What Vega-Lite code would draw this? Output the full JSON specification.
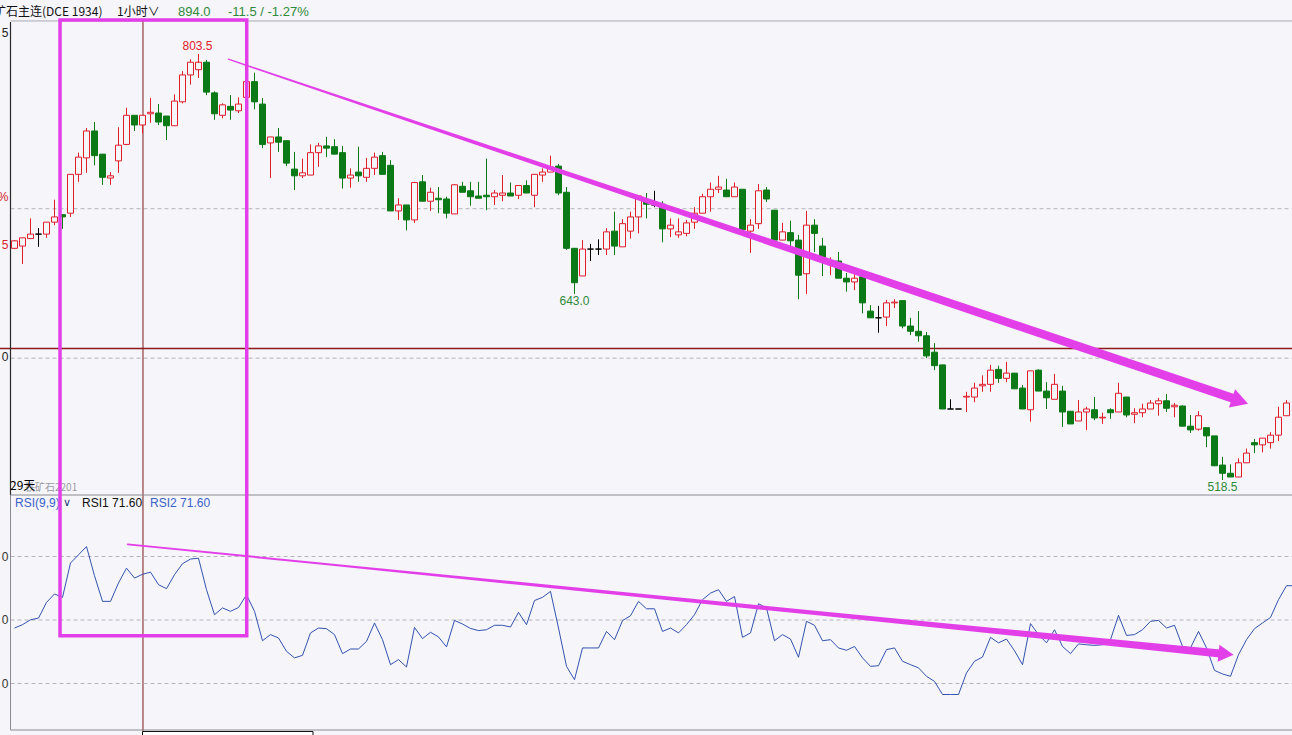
{
"$schema": "https://vega.github.io/schema/vega-lite/v6.json",
"width": 1292, "height": 735,
"autosize": {"type": "none"},
"padding": 0,
"background": "#f5f5fa",
"config": {"view": {"stroke": null}, "axis": {"disable": true}, "legend": {"disable": true}, "scale": {"continuousPadding": 0}},
"datasets": {
"candles": [
{"i":0,"o":673.5,"h":679,"l":673,"c":678.5,"d":"u"},
{"i":1,"o":675,"h":680.5,"l":663,"c":680.5,"d":"u"},
{"i":2,"o":680,"h":693.5,"l":680,"c":683,"d":"u"},
{"i":3,"o":683,"h":687,"l":674.5,"c":683,"d":"f"},
{"i":4,"o":683,"h":691,"l":680.5,"c":691,"d":"u"},
{"i":5,"o":691,"h":706,"l":689,"c":694.5,"d":"u"},
{"i":6,"o":696,"h":696,"l":686.5,"c":694.5,"d":"d"},
{"i":7,"o":697,"h":723,"l":694.5,"c":723,"d":"u"},
{"i":8,"o":723,"h":737.5,"l":718,"c":734.5,"d":"u"},
{"i":9,"o":734,"h":754,"l":724,"c":752,"d":"u"},
{"i":10,"o":752,"h":758,"l":729,"c":735.5,"d":"d"},
{"i":11,"o":736.5,"h":736.5,"l":716,"c":721,"d":"d"},
{"i":12,"o":720.5,"h":724.5,"l":716,"c":722,"d":"u"},
{"i":13,"o":732,"h":754.5,"l":724,"c":742.5,"d":"u"},
{"i":14,"o":743,"h":767.5,"l":742.5,"c":762.5,"d":"u"},
{"i":15,"o":762.5,"h":762.5,"l":752,"c":756,"d":"d"},
{"i":16,"o":756,"h":762.5,"l":750.5,"c":762.5,"d":"u"},
{"i":17,"o":763.5,"h":774,"l":757.5,"c":764.5,"d":"u"},
{"i":18,"o":764,"h":770,"l":756,"c":758,"d":"d"},
{"i":19,"o":762,"h":762,"l":746,"c":755.5,"d":"d"},
{"i":20,"o":755.5,"h":776.5,"l":755.5,"c":772,"d":"u"},
{"i":21,"o":771.5,"h":792,"l":770.5,"c":789.5,"d":"u"},
{"i":22,"o":789.5,"h":800,"l":783,"c":798,"d":"u"},
{"i":23,"o":793,"h":803.5,"l":787.5,"c":798,"d":"u"},
{"i":24,"o":798,"h":799.5,"l":776,"c":778,"d":"d"},
{"i":25,"o":777.5,"h":778.5,"l":759.5,"c":763.5,"d":"d"},
{"i":26,"o":762.5,"h":770.5,"l":760.5,"c":769.5,"d":"u"},
{"i":27,"o":768.5,"h":776,"l":759.5,"c":766,"d":"d"},
{"i":28,"o":765.5,"h":774.5,"l":764,"c":770,"d":"u"},
{"i":29,"o":774.5,"h":787,"l":773.5,"c":785,"d":"u"},
{"i":30,"o":785,"h":791,"l":766.5,"c":771.5,"d":"d"},
{"i":31,"o":770,"h":774,"l":740.5,"c":743,"d":"d"},
{"i":32,"o":744,"h":748,"l":720.5,"c":748,"d":"u"},
{"i":33,"o":748,"h":754,"l":738,"c":744.5,"d":"d"},
{"i":34,"o":745.5,"h":745.5,"l":728.5,"c":730.5,"d":"d"},
{"i":35,"o":726.5,"h":738,"l":712.5,"c":722,"d":"d"},
{"i":36,"o":722,"h":733.5,"l":720.5,"c":724,"d":"u"},
{"i":37,"o":722.5,"h":743,"l":722.5,"c":737.5,"d":"u"},
{"i":38,"o":737.5,"h":744,"l":728,"c":742,"d":"u"},
{"i":39,"o":742,"h":748,"l":734.5,"c":740.5,"d":"d"},
{"i":40,"o":741.5,"h":746.5,"l":736.5,"c":736.5,"d":"d"},
{"i":41,"o":737.5,"h":742,"l":713.5,"c":720.5,"d":"d"},
{"i":42,"o":720.5,"h":727,"l":714,"c":722.5,"d":"u"},
{"i":43,"o":724.5,"h":741.5,"l":718,"c":722,"d":"d"},
{"i":44,"o":721,"h":734,"l":718,"c":727,"d":"u"},
{"i":45,"o":727,"h":737.5,"l":722.5,"c":734.5,"d":"u"},
{"i":46,"o":735.5,"h":738,"l":723,"c":723,"d":"d"},
{"i":47,"o":729,"h":732.5,"l":698.5,"c":698.5,"d":"d"},
{"i":48,"o":698.5,"h":707,"l":692.5,"c":702.5,"d":"u"},
{"i":49,"o":702.5,"h":702.5,"l":685.5,"c":692.5,"d":"d"},
{"i":50,"o":692.5,"h":718,"l":690.5,"c":717.5,"d":"u"},
{"i":51,"o":718,"h":722.5,"l":705,"c":705,"d":"d"},
{"i":52,"o":705,"h":714,"l":698.5,"c":711,"d":"u"},
{"i":53,"o":707,"h":714.5,"l":697,"c":706,"d":"d"},
{"i":54,"o":706.5,"h":708,"l":693.5,"c":697,"d":"d"},
{"i":55,"o":696.5,"h":716.5,"l":696.5,"c":716,"d":"u"},
{"i":56,"o":715,"h":718,"l":711,"c":711,"d":"d"},
{"i":57,"o":712,"h":718,"l":702,"c":708,"d":"d"},
{"i":58,"o":708.5,"h":718,"l":707,"c":707,"d":"d"},
{"i":59,"o":709,"h":733.5,"l":699,"c":708,"d":"d"},
{"i":60,"o":708,"h":712.5,"l":702.5,"c":710.5,"d":"u"},
{"i":61,"o":709,"h":722.5,"l":705,"c":710.5,"d":"u"},
{"i":62,"o":710.5,"h":717.5,"l":708.5,"c":708.5,"d":"d"},
{"i":63,"o":709,"h":715.5,"l":706.5,"c":715.5,"d":"u"},
{"i":64,"o":715.5,"h":719,"l":710.5,"c":710.5,"d":"d"},
{"i":65,"o":709,"h":723,"l":701,"c":723,"d":"u"},
{"i":66,"o":722.5,"h":727,"l":718,"c":724.5,"d":"u"},
{"i":67,"o":724.5,"h":735.5,"l":724.5,"c":728,"d":"u"},
{"i":68,"o":728.5,"h":730,"l":709,"c":710.5,"d":"d"},
{"i":69,"o":711,"h":714.5,"l":672.5,"c":673.5,"d":"d"},
{"i":70,"o":673.5,"h":673.5,"l":643,"c":650.5,"d":"d"},
{"i":71,"o":655,"h":679,"l":655,"c":673,"d":"u"},
{"i":72,"o":673,"h":676.5,"l":665,"c":673,"d":"f"},
{"i":73,"o":673,"h":679.5,"l":669,"c":673,"d":"f"},
{"i":74,"o":673,"h":687,"l":669,"c":684.5,"d":"u"},
{"i":75,"o":685,"h":698,"l":669,"c":675,"d":"d"},
{"i":76,"o":674.5,"h":693,"l":674.5,"c":690,"d":"u"},
{"i":77,"o":685,"h":698,"l":680,"c":694.5,"d":"u"},
{"i":78,"o":694.5,"h":709,"l":683.5,"c":708.5,"d":"u"},
{"i":79,"o":706,"h":710.5,"l":693.5,"c":703,"d":"d"},
{"i":80,"o":702.5,"h":712,"l":701,"c":702.5,"d":"f"},
{"i":81,"o":703,"h":705,"l":677.5,"c":686.5,"d":"d"},
{"i":82,"o":686.5,"h":693.5,"l":681,"c":689,"d":"u"},
{"i":83,"o":682.5,"h":693.5,"l":680.5,"c":684.5,"d":"u"},
{"i":84,"o":683.5,"h":692.5,"l":681.5,"c":690.5,"d":"u"},
{"i":85,"o":691,"h":701,"l":686.5,"c":697,"d":"u"},
{"i":86,"o":697,"h":710,"l":697,"c":708,"d":"u"},
{"i":87,"o":708,"h":717.5,"l":698,"c":713,"d":"u"},
{"i":88,"o":713,"h":722,"l":710.5,"c":714.5,"d":"u"},
{"i":89,"o":712.5,"h":720,"l":708,"c":708,"d":"d"},
{"i":90,"o":708,"h":717.5,"l":708,"c":714.5,"d":"u"},
{"i":91,"o":713,"h":713,"l":684.5,"c":686,"d":"d"},
{"i":92,"o":685,"h":693,"l":670.5,"c":689,"d":"u"},
{"i":93,"o":690,"h":716.5,"l":686.5,"c":712,"d":"u"},
{"i":94,"o":712.5,"h":714.5,"l":704.5,"c":706.5,"d":"d"},
{"i":95,"o":699,"h":699,"l":679,"c":679,"d":"d"},
{"i":96,"o":679,"h":690.5,"l":679,"c":684.5,"d":"u"},
{"i":97,"o":684,"h":692,"l":673.5,"c":678.5,"d":"d"},
{"i":98,"o":679,"h":682.5,"l":639.5,"c":655.5,"d":"d"},
{"i":99,"o":656.5,"h":698.5,"l":643,"c":689,"d":"u"},
{"i":100,"o":689,"h":693,"l":671,"c":683.5,"d":"d"},
{"i":101,"o":675,"h":680.5,"l":655,"c":666.5,"d":"d"},
{"i":102,"o":663.5,"h":667.5,"l":655.5,"c":664.5,"d":"u"},
{"i":103,"o":665,"h":671,"l":653.5,"c":653.5,"d":"d"},
{"i":104,"o":653.5,"h":657,"l":644.5,"c":651,"d":"d"},
{"i":105,"o":651,"h":661,"l":645.5,"c":653.5,"d":"u"},
{"i":106,"o":654.5,"h":654.5,"l":630,"c":637,"d":"d"},
{"i":107,"o":631.5,"h":635.5,"l":627,"c":627,"d":"d"},
{"i":108,"o":627,"h":635,"l":617,"c":627,"d":"f"},
{"i":109,"o":627.5,"h":639,"l":621.5,"c":637,"d":"u"},
{"i":110,"o":637,"h":639.5,"l":633.5,"c":637.5,"d":"u"},
{"i":111,"o":638.5,"h":638.5,"l":620,"c":621.5,"d":"d"},
{"i":112,"o":621.5,"h":627,"l":615.5,"c":618,"d":"d"},
{"i":113,"o":618,"h":631.5,"l":611,"c":615,"d":"d"},
{"i":114,"o":615,"h":617.5,"l":600,"c":601.5,"d":"d"},
{"i":115,"o":604,"h":610,"l":592,"c":595,"d":"d"},
{"i":116,"o":595.5,"h":595.5,"l":566,"c":566,"d":"d"},
{"i":117,"o":566,"h":572.5,"l":566,"c":566,"d":"f"},
{"i":118,"o":566,"h":566,"l":566,"c":566,"d":"f"},
{"i":119,"o":574,"h":577.5,"l":564,"c":574.5,"d":"u"},
{"i":120,"o":574,"h":583.5,"l":570.5,"c":580,"d":"u"},
{"i":121,"o":581.5,"h":588.5,"l":577.5,"c":582.5,"d":"u"},
{"i":122,"o":582.5,"h":595.5,"l":577.5,"c":592,"d":"u"},
{"i":123,"o":592.5,"h":595,"l":583.5,"c":586.5,"d":"d"},
{"i":124,"o":586.5,"h":597.5,"l":584,"c":590,"d":"u"},
{"i":125,"o":590,"h":590,"l":579.5,"c":579.5,"d":"d"},
{"i":126,"o":580,"h":582,"l":566,"c":566,"d":"d"},
{"i":127,"o":565.5,"h":591.5,"l":557.5,"c":591.5,"d":"u"},
{"i":128,"o":592,"h":592.5,"l":578,"c":578,"d":"d"},
{"i":129,"o":578,"h":584,"l":566,"c":573.5,"d":"d"},
{"i":130,"o":572.5,"h":589.5,"l":572.5,"c":582.5,"d":"u"},
{"i":131,"o":578,"h":581.5,"l":554,"c":564,"d":"d"},
{"i":132,"o":564.5,"h":564.5,"l":556,"c":556,"d":"d"},
{"i":133,"o":558,"h":572,"l":558,"c":564,"d":"u"},
{"i":134,"o":564,"h":567.5,"l":552,"c":566,"d":"u"},
{"i":135,"o":565.5,"h":574,"l":558.5,"c":560,"d":"d"},
{"i":136,"o":560,"h":563.5,"l":556,"c":560.5,"d":"u"},
{"i":137,"o":565.5,"h":566.5,"l":559.5,"c":563.5,"d":"d"},
{"i":138,"o":564,"h":583.5,"l":564,"c":576.5,"d":"u"},
{"i":139,"o":574,"h":574,"l":560.5,"c":562,"d":"d"},
{"i":140,"o":562.5,"h":566.5,"l":556.5,"c":563.5,"d":"u"},
{"i":141,"o":563.5,"h":569.5,"l":560.5,"c":566,"d":"u"},
{"i":142,"o":566,"h":572,"l":566,"c":570,"d":"u"},
{"i":143,"o":569.5,"h":573.5,"l":561.5,"c":571.5,"d":"u"},
{"i":144,"o":571.5,"h":576,"l":564,"c":566.5,"d":"d"},
{"i":145,"o":567.5,"h":570,"l":560.5,"c":568.5,"d":"u"},
{"i":146,"o":568,"h":568.5,"l":554.5,"c":554.5,"d":"d"},
{"i":147,"o":554.5,"h":562,"l":550,"c":552,"d":"d"},
{"i":148,"o":552.5,"h":564.5,"l":551.5,"c":561.5,"d":"u"},
{"i":149,"o":553.5,"h":553.5,"l":540.5,"c":548,"d":"d"},
{"i":150,"o":548,"h":548,"l":528,"c":528,"d":"d"},
{"i":151,"o":528.5,"h":534,"l":518.5,"c":523,"d":"d"},
{"i":152,"o":523,"h":529,"l":520.5,"c":520.5,"d":"d"},
{"i":153,"o":520.5,"h":533,"l":520.5,"c":530,"d":"u"},
{"i":154,"o":530,"h":539.5,"l":530,"c":536.5,"d":"u"},
{"i":155,"o":543.5,"h":546,"l":536.5,"c":542,"d":"d"},
{"i":156,"o":542,"h":546.5,"l":537,"c":546.5,"d":"u"},
{"i":157,"o":543.5,"h":550.5,"l":539.5,"c":548.5,"d":"u"},
{"i":158,"o":548.5,"h":567.5,"l":544.5,"c":560.5,"d":"u"},
{"i":159,"o":561.5,"h":572,"l":561.5,"c":570,"d":"u"}
],
"rsi": [
{"i":0,"r":46.2},{"i":1,"r":47.8},{"i":2,"r":50.1},{"i":3,"r":50.9},{"i":4,"r":58.3},{"i":5,"r":62.3},{"i":6,"r":60.7},{"i":7,"r":76.9},{"i":8,"r":80.8},{"i":9,"r":84.7},
{"i":10,"r":70.9},{"i":11,"r":58.8},{"i":12,"r":58.8},{"i":13,"r":67.5},{"i":14,"r":74.5},{"i":15,"r":69.8},{"i":16,"r":71.6},{"i":17,"r":72.6},{"i":18,"r":66.7},{"i":19,"r":64.8},
{"i":20,"r":71.4},{"i":21,"r":76.6},{"i":22,"r":78.8},{"i":23,"r":79.2},{"i":24,"r":64.3},{"i":25,"r":52.5},{"i":26,"r":55.7},{"i":27,"r":54.1},{"i":28,"r":55.9},{"i":29,"r":61.9},
{"i":30,"r":54.1},{"i":31,"r":40.2},{"i":32,"r":43.1},{"i":33,"r":41.5},{"i":34,"r":35.2},{"i":35,"r":32.1},{"i":36,"r":33.3},{"i":37,"r":43.9},{"i":38,"r":46.2},{"i":39,"r":45.9},
{"i":40,"r":43.1},{"i":41,"r":34.1},{"i":42,"r":36.3},{"i":43,"r":36.3},{"i":44,"r":39.9},{"i":45,"r":48.6},{"i":46,"r":40.7},{"i":47,"r":28.9},{"i":48,"r":31.3},{"i":49,"r":27.8},
{"i":50,"r":46.5},{"i":51,"r":41.2},{"i":52,"r":44.2},{"i":53,"r":42.0},{"i":54,"r":37.3},{"i":55,"r":49.8},{"i":56,"r":48.1},{"i":57,"r":46.0},{"i":58,"r":45.0},{"i":59,"r":45.4},
{"i":60,"r":47.5},{"i":61,"r":47.5},{"i":62,"r":46.7},{"i":63,"r":53.6},{"i":64,"r":47.8},{"i":65,"r":59.2},{"i":66,"r":60.7},{"i":67,"r":63.5},{"i":68,"r":46.2},{"i":69,"r":28.1},
{"i":70,"r":21.8},{"i":71,"r":36.8},{"i":72,"r":36.8},{"i":73,"r":36.8},{"i":74,"r":44.6},{"i":75,"r":40.7},{"i":76,"r":49.7},{"i":77,"r":52.0},{"i":78,"r":58.8},{"i":79,"r":55.3},
{"i":80,"r":55.3},{"i":81,"r":44.6},{"i":82,"r":46.2},{"i":83,"r":43.9},{"i":84,"r":47.8},{"i":85,"r":52.5},{"i":86,"r":59.6},{"i":87,"r":62.7},{"i":88,"r":64.3},{"i":89,"r":58.8},
{"i":90,"r":61.1},{"i":91,"r":41.8},{"i":92,"r":43.9},{"i":93,"r":57.7},{"i":94,"r":55.7},{"i":95,"r":40.2},{"i":96,"r":43.1},{"i":97,"r":41.0},{"i":98,"r":32.4},{"i":99,"r":49.4},
{"i":100,"r":47.5},{"i":101,"r":40.2},{"i":102,"r":40.7},{"i":103,"r":36.8},{"i":104,"r":35.7},{"i":105,"r":37.5},{"i":106,"r":32.1},{"i":107,"r":28.1},{"i":108,"r":28.4},{"i":109,"r":36.0},
{"i":110,"r":36.8},{"i":111,"r":30.5},{"i":112,"r":28.9},{"i":113,"r":27.4},{"i":114,"r":23.4},{"i":115,"r":21.0},{"i":116,"r":14.8},{"i":117,"r":14.8},{"i":118,"r":14.8},{"i":119,"r":25.0},
{"i":120,"r":30.5},{"i":121,"r":32.5},{"i":122,"r":41.8},{"i":123,"r":39.2},{"i":124,"r":41.0},{"i":125,"r":35.5},{"i":126,"r":28.9},{"i":127,"r":48.3},{"i":128,"r":43.1},{"i":129,"r":39.2},
{"i":130,"r":45.4},{"i":131,"r":37.5},{"i":132,"r":34.1},{"i":133,"r":38.7},{"i":134,"r":38.3},{"i":135,"r":38.0},{"i":136,"r":38.3},{"i":137,"r":40.7},{"i":138,"r":52.2},{"i":139,"r":42.7},
{"i":140,"r":43.1},{"i":141,"r":45.4},{"i":142,"r":49.4},{"i":143,"r":49.8},{"i":144,"r":46.2},{"i":145,"r":47.5},{"i":146,"r":37.5},{"i":147,"r":36.8},{"i":148,"r":44.6},{"i":149,"r":36.8},
{"i":150,"r":26.2},{"i":151,"r":24.5},{"i":152,"r":23.4},{"i":153,"r":33.6},{"i":154,"r":40.7},{"i":155,"r":45.9},{"i":156,"r":48.6},{"i":157,"r":51.2},{"i":158,"r":59.6},{"i":159,"r":66.2},
{"i":160,"r":66.2}
]
},
"resolve": {"scale": {"y": "independent", "size": "independent"}},
"layer": [
{
"layer": [
{"data": {"values": [{"p": 700}, {"p": 600}]},
 "mark": {"type": "rule", "stroke": "#b4b4bc", "strokeDash": [4, 3], "strokeWidth": 1},
 "encoding": {"x": {"datum": -0.5, "type": "quantitative", "scale": {"domain": [0, 159], "range": [14.5, 1286.5], "padding": 0}}, "x2": {"datum": 160},
  "y": {"field": "p", "type": "quantitative", "scale": {"domain": [518.5, 803.5], "range": [480, 54], "zero": false, "nice": false}}}},
{"data": {"values": [{"p": 606.5}]},
 "mark": {"type": "rule", "stroke": "#8e1b1b", "strokeWidth": 1.5},
 "encoding": {"x": {"datum": -2, "type": "quantitative", "scale": {"domain": [0, 159], "range": [14.5, 1286.5], "padding": 0}}, "x2": {"datum": 160},
  "y": {"field": "p", "type": "quantitative", "scale": {"domain": [518.5, 803.5], "range": [480, 54], "zero": false, "nice": false}}}},
{"data": {"values": [{"p": 825.6}]},
 "mark": {"type": "rule", "stroke": "#a9a9b2", "strokeWidth": 1},
 "encoding": {"x": {"datum": -0.5, "type": "quantitative", "scale": {"domain": [0, 159], "range": [14.5, 1286.5], "padding": 0}}, "x2": {"datum": 160},
  "y": {"field": "p", "type": "quantitative", "scale": {"domain": [518.5, 803.5], "range": [480, 54], "zero": false, "nice": false}}}},
{"data": {"values": [{"p0": 824.9, "p1": 508.5}]},
 "mark": {"type": "rule", "stroke": "#2a2a2a", "strokeWidth": 1.2},
 "encoding": {"x": {"datum": -0.5, "type": "quantitative", "scale": {"domain": [0, 159], "range": [14.5, 1286.5], "padding": 0}},
  "y": {"field": "p0", "type": "quantitative", "scale": {"domain": [518.5, 803.5], "range": [480, 54], "zero": false, "nice": false}}, "y2": {"field": "p1"}}},
{"data": {"values": [{"i": 16.06, "p0": 825.6, "p1": 347.9}]},
 "mark": {"type": "rule", "stroke": "#7d1a1a", "strokeWidth": 1},
 "encoding": {"x": {"field": "i", "type": "quantitative", "scale": {"domain": [0, 159], "range": [14.5, 1286.5], "padding": 0}},
  "y": {"field": "p0", "type": "quantitative", "scale": {"domain": [518.5, 803.5], "range": [480, 54], "zero": false, "nice": false}}, "y2": {"field": "p1"}}},
{"data": {"name": "candles"},
 "mark": {"type": "rule", "strokeWidth": 1},
 "encoding": {"x": {"field": "i", "type": "quantitative", "scale": {"domain": [0, 159], "range": [14.5, 1286.5], "padding": 0}},
  "y": {"field": "l", "type": "quantitative", "scale": {"domain": [518.5, 803.5], "range": [480, 54], "zero": false, "nice": false}}, "y2": {"field": "h"},
  "stroke": {"field": "d", "type": "nominal", "scale": {"domain": ["u", "d", "f"], "range": ["#e01f2b", "#0b7a16", "#000000"]}}}},
{"data": {"name": "candles"},
 "mark": {"type": "bar", "width": 6, "strokeWidth": 1},
 "encoding": {"x": {"field": "i", "type": "quantitative", "scale": {"domain": [0, 159], "range": [14.5, 1286.5], "padding": 0}},
  "y": {"field": "o", "type": "quantitative", "scale": {"domain": [518.5, 803.5], "range": [480, 54], "zero": false, "nice": false}}, "y2": {"field": "c"},
  "stroke": {"field": "d", "type": "nominal", "scale": {"domain": ["u", "d", "f"], "range": ["#e01f2b", "#0b7a16", "#000000"]}},
  "fill": {"field": "d", "type": "nominal", "scale": {"domain": ["u", "d", "f"], "range": ["#f5f5fa", "#0b7a16", "#000000"]}}}},
{"data": {"values": [{"i": 23, "p": 803.5, "t": "803.5"}]},
 "mark": {"type": "text", "font": "Liberation Sans", "fontSize": 12, "color": "#e0202c", "baseline": "bottom", "dy": -1, "dx": -1},
 "encoding": {"x": {"field": "i", "type": "quantitative", "scale": {"domain": [0, 159], "range": [14.5, 1286.5], "padding": 0}},
  "y": {"field": "p", "type": "quantitative", "scale": {"domain": [518.5, 803.5], "range": [480, 54], "zero": false, "nice": false}}, "text": {"field": "t"}}},
{"data": {"values": [{"i": 70, "p": 643, "t": "643.0"}, {"i": 151, "p": 518.5, "t": "518.5"}]},
 "mark": {"type": "text", "font": "Liberation Sans", "fontSize": 12, "color": "#2f8a3a", "baseline": "top", "dy": 2},
 "encoding": {"x": {"field": "i", "type": "quantitative", "scale": {"domain": [0, 159], "range": [14.5, 1286.5], "padding": 0}},
  "y": {"field": "p", "type": "quantitative", "scale": {"domain": [518.5, 803.5], "range": [480, 54], "zero": false, "nice": false}}, "text": {"field": "t"}}},
{"data": {"values": [{"i": -2.56, "p": 831.6, "t": "矿石主连(DCE 1934)"}, {"i": 12.81, "p": 831.6, "t": "1小时∨"}]},
 "mark": {"type": "text", "font": "Noto Sans CJK SC", "fontSize": 12, "color": "#111111", "align": "left", "baseline": "middle"},
 "encoding": {"x": {"field": "i", "type": "quantitative", "scale": {"domain": [0, 159], "range": [14.5, 1286.5], "padding": 0}},
  "y": {"field": "p", "type": "quantitative", "scale": {"domain": [518.5, 803.5], "range": [480, 54], "zero": false, "nice": false}}, "text": {"field": "t"}}},
{"data": {"values": [{"i": 20.44, "p": 831.6, "t": "894.0"}, {"i": 26.69, "p": 831.6, "t": "-11.5 / -1.27%"}]},
 "mark": {"type": "text", "font": "Liberation Sans", "fontSize": 13, "color": "#2f8a3a", "align": "left", "baseline": "middle"},
 "encoding": {"x": {"field": "i", "type": "quantitative", "scale": {"domain": [0, 159], "range": [14.5, 1286.5], "padding": 0}},
  "y": {"field": "p", "type": "quantitative", "scale": {"domain": [518.5, 803.5], "range": [480, 54], "zero": false, "nice": false}}, "text": {"field": "t"}}},
{"data": {"values": [{"i": -0.75, "p": 817.5, "t": "5"}, {"i": -0.75, "p": 600.8, "t": "0"}]},
 "mark": {"type": "text", "font": "Liberation Sans", "fontSize": 12, "color": "#222222", "align": "right", "baseline": "middle"},
 "encoding": {"x": {"field": "i", "type": "quantitative", "scale": {"domain": [0, 159], "range": [14.5, 1286.5], "padding": 0}},
  "y": {"field": "p", "type": "quantitative", "scale": {"domain": [518.5, 803.5], "range": [480, 54], "zero": false, "nice": false}}, "text": {"field": "t"}}},
{"data": {"values": [{"i": -0.75, "p": 707.8, "t": "%"}, {"i": -0.75, "p": 675.7, "t": "5"}]},
 "mark": {"type": "text", "font": "Liberation Sans", "fontSize": 12, "color": "#d8242c", "align": "right", "baseline": "middle"},
 "encoding": {"x": {"field": "i", "type": "quantitative", "scale": {"domain": [0, 159], "range": [14.5, 1286.5], "padding": 0}},
  "y": {"field": "p", "type": "quantitative", "scale": {"domain": [518.5, 803.5], "range": [480, 54], "zero": false, "nice": false}}, "text": {"field": "t"}}}
]
},
{
"layer": [
{"data": {"values": [{"r": 80}, {"r": 50}, {"r": 20}]},
 "mark": {"type": "rule", "stroke": "#b4b4bc", "strokeDash": [4, 3], "strokeWidth": 1},
 "encoding": {"x": {"datum": -0.5, "type": "quantitative", "scale": {"domain": [0, 159], "range": [14.5, 1286.5], "padding": 0}}, "x2": {"datum": 160},
  "y": {"field": "r", "type": "quantitative", "scale": {"domain": [20, 80], "range": [683.5, 556.5], "zero": false, "nice": false}}}},
{"data": {"values": [{"r": 109.05}, {"r": -1.97}]},
 "mark": {"type": "rule", "stroke": "#8a8a92", "strokeWidth": 1},
 "encoding": {"x": {"datum": -0.5, "type": "quantitative", "scale": {"domain": [0, 159], "range": [14.5, 1286.5], "padding": 0}}, "x2": {"datum": 160},
  "y": {"field": "r", "type": "quantitative", "scale": {"domain": [20, 80], "range": [683.5, 556.5], "zero": false, "nice": false}}}},
{"data": {"values": [{"r0": 109.05, "r1": -1.97}]},
 "mark": {"type": "rule", "stroke": "#8a8a92", "strokeWidth": 1},
 "encoding": {"x": {"datum": -0.5, "type": "quantitative", "scale": {"domain": [0, 159], "range": [14.5, 1286.5], "padding": 0}},
  "y": {"field": "r0", "type": "quantitative", "scale": {"domain": [20, 80], "range": [683.5, 556.5], "zero": false, "nice": false}}, "y2": {"field": "r1"}}},
{"data": {"name": "rsi"},
 "mark": {"type": "line", "stroke": "#3452b0", "strokeWidth": 1},
 "encoding": {"x": {"field": "i", "type": "quantitative", "scale": {"domain": [0, 159], "range": [14.5, 1286.5], "padding": 0}},
  "y": {"field": "r", "type": "quantitative", "scale": {"domain": [20, 80], "range": [683.5, 556.5], "zero": false, "nice": false}}}},
{"data": {"values": [{"i": -0.75, "r": 80, "t": "0"}, {"i": -0.75, "r": 50, "t": "0"}, {"i": -0.75, "r": 20, "t": "0"}]},
 "mark": {"type": "text", "font": "Liberation Sans", "fontSize": 12, "color": "#333333", "align": "right", "baseline": "middle"},
 "encoding": {"x": {"field": "i", "type": "quantitative", "scale": {"domain": [0, 159], "range": [14.5, 1286.5], "padding": 0}},
  "y": {"field": "r", "type": "quantitative", "scale": {"domain": [20, 80], "range": [683.5, 556.5], "zero": false, "nice": false}}, "text": {"field": "t"}}},
{"data": {"values": [{"i": 0.06, "r": 105.3, "t": "RSI(9,9)"}, {"i": 16.94, "r": 105.3, "t": "RSI2 71.60"}]},
 "mark": {"type": "text", "font": "Liberation Sans", "fontSize": 12, "color": "#3a62c8", "align": "left", "baseline": "middle"},
 "encoding": {"x": {"field": "i", "type": "quantitative", "scale": {"domain": [0, 159], "range": [14.5, 1286.5], "padding": 0}},
  "y": {"field": "r", "type": "quantitative", "scale": {"domain": [20, 80], "range": [683.5, 556.5], "zero": false, "nice": false}}, "text": {"field": "t"}}},
{"data": {"values": [{"i": 6.06, "r": 105.3, "t": "∨"}]},
 "mark": {"type": "text", "font": "DejaVu Sans", "fontSize": 11, "color": "#2a3f7a", "align": "left", "baseline": "middle"},
 "encoding": {"x": {"field": "i", "type": "quantitative", "scale": {"domain": [0, 159], "range": [14.5, 1286.5], "padding": 0}},
  "y": {"field": "r", "type": "quantitative", "scale": {"domain": [20, 80], "range": [683.5, 556.5], "zero": false, "nice": false}}, "text": {"field": "t"}}},
{"data": {"values": [{"i": 8.44, "r": 105.3, "t": "RSI1 71.60"}]},
 "mark": {"type": "text", "font": "Liberation Sans", "fontSize": 12, "color": "#111111", "align": "left", "baseline": "middle"},
 "encoding": {"x": {"field": "i", "type": "quantitative", "scale": {"domain": [0, 159], "range": [14.5, 1286.5], "padding": 0}},
  "y": {"field": "r", "type": "quantitative", "scale": {"domain": [20, 80], "range": [683.5, 556.5], "zero": false, "nice": false}}, "text": {"field": "t"}}},
{"data": {"values": [{"i": 1.31, "r": 112.4, "t": "铁矿石2201"}]},
 "mark": {"type": "text", "font": "Noto Sans CJK SC", "fontSize": 10, "color": "#9a9aa2", "align": "left", "baseline": "middle"},
 "encoding": {"x": {"field": "i", "type": "quantitative", "scale": {"domain": [0, 159], "range": [14.5, 1286.5], "padding": 0}},
  "y": {"field": "r", "type": "quantitative", "scale": {"domain": [20, 80], "range": [683.5, 556.5], "zero": false, "nice": false}}, "text": {"field": "t"}}},
{"data": {"values": [{"i": -0.56, "r": 113.3, "t": "29天"}]},
 "mark": {"type": "text", "font": "Noto Sans CJK SC", "fontSize": 12, "color": "#000000", "align": "left", "baseline": "middle"},
 "encoding": {"x": {"field": "i", "type": "quantitative", "scale": {"domain": [0, 159], "range": [14.5, 1286.5], "padding": 0}},
  "y": {"field": "r", "type": "quantitative", "scale": {"domain": [20, 80], "range": [683.5, 556.5], "zero": false, "nice": false}}, "text": {"field": "t"}}},
{"data": {"values": [{"a": 16.0, "b": 37.31, "r0": -2.68, "r1": -12}]},
 "mark": {"type": "rect", "fill": "#ffffff", "stroke": "#111111", "strokeWidth": 1},
 "encoding": {"x": {"field": "a", "type": "quantitative", "scale": {"domain": [0, 159], "range": [14.5, 1286.5], "padding": 0}}, "x2": {"field": "b"},
  "y": {"field": "r0", "type": "quantitative", "scale": {"domain": [20, 80], "range": [683.5, 556.5], "zero": false, "nice": false}}, "y2": {"field": "r1"}}},
{"data": {"values": [{"i": 14.15, "r": 85.76}, {"i": 38.19, "r": 76.7}, {"i": 100.69, "r": 53.1}, {"i": 150.69, "r": 34.2}]},
 "mark": {"type": "trail", "color": "#e33fe8"},
 "encoding": {"x": {"field": "i", "type": "quantitative", "scale": {"domain": [0, 159], "range": [14.5, 1286.5], "padding": 0}},
  "y": {"field": "r", "type": "quantitative", "scale": {"domain": [20, 80], "range": [683.5, 556.5], "zero": false, "nice": false}},
  "size": {"field": "i", "type": "quantitative", "scale": {"domain": [14.15, 38.19, 100.69, 150.69], "range": [1.7, 2.2, 4.3, 8], "zero": false}}}},
{"data": {"values": [{"i": 151.44, "r": 33.94}]},
 "mark": {"type": "point", "shape": "triangle-right", "size": 300, "angle": 5.7, "filled": true, "color": "#e33fe8", "opacity": 1},
 "encoding": {"x": {"field": "i", "type": "quantitative", "scale": {"domain": [0, 159], "range": [14.5, 1286.5], "padding": 0}},
  "y": {"field": "r", "type": "quantitative", "scale": {"domain": [20, 80], "range": [683.5, 556.5], "zero": false, "nice": false}}}}
]
},
{
"layer": [
{"data": {"values": [{"a": 5.69, "b": 29.03, "p0": 826.25, "p1": 414.3}]},
 "mark": {"type": "rect", "fillOpacity": 0, "stroke": "#e33fe8", "strokeWidth": 3.5},
 "encoding": {"x": {"field": "a", "type": "quantitative", "scale": {"domain": [0, 159], "range": [14.5, 1286.5], "padding": 0}}, "x2": {"field": "b"},
  "y": {"field": "p0", "type": "quantitative", "scale": {"domain": [518.5, 803.5], "range": [480, 54], "zero": false, "nice": false}}, "y2": {"field": "p1"}}},
{"data": {"values": [{"i": 26.73, "p": 800}, {"i": 66.94, "p": 727.3}, {"i": 111.94, "p": 646.0}, {"i": 152.19, "p": 573.3}]},
 "mark": {"type": "trail", "color": "#e33fe8"},
 "encoding": {"x": {"field": "i", "type": "quantitative", "scale": {"domain": [0, 159], "range": [14.5, 1286.5], "padding": 0}},
  "y": {"field": "p", "type": "quantitative", "scale": {"domain": [518.5, 803.5], "range": [480, 54], "zero": false, "nice": false}},
  "size": {"field": "i", "type": "quantitative", "scale": {"domain": [26.73, 66.94, 111.94, 152.19], "range": [1.3, 4.5, 8, 9], "zero": false}}}},
{"data": {"values": [{"i": 153.19, "p": 571.3}]},
 "mark": {"type": "point", "shape": "triangle-right", "size": 380, "angle": 18.6, "filled": true, "color": "#e33fe8", "opacity": 1},
 "encoding": {"x": {"field": "i", "type": "quantitative", "scale": {"domain": [0, 159], "range": [14.5, 1286.5], "padding": 0}},
  "y": {"field": "p", "type": "quantitative", "scale": {"domain": [518.5, 803.5], "range": [480, 54], "zero": false, "nice": false}}}}
]
}
]
}
